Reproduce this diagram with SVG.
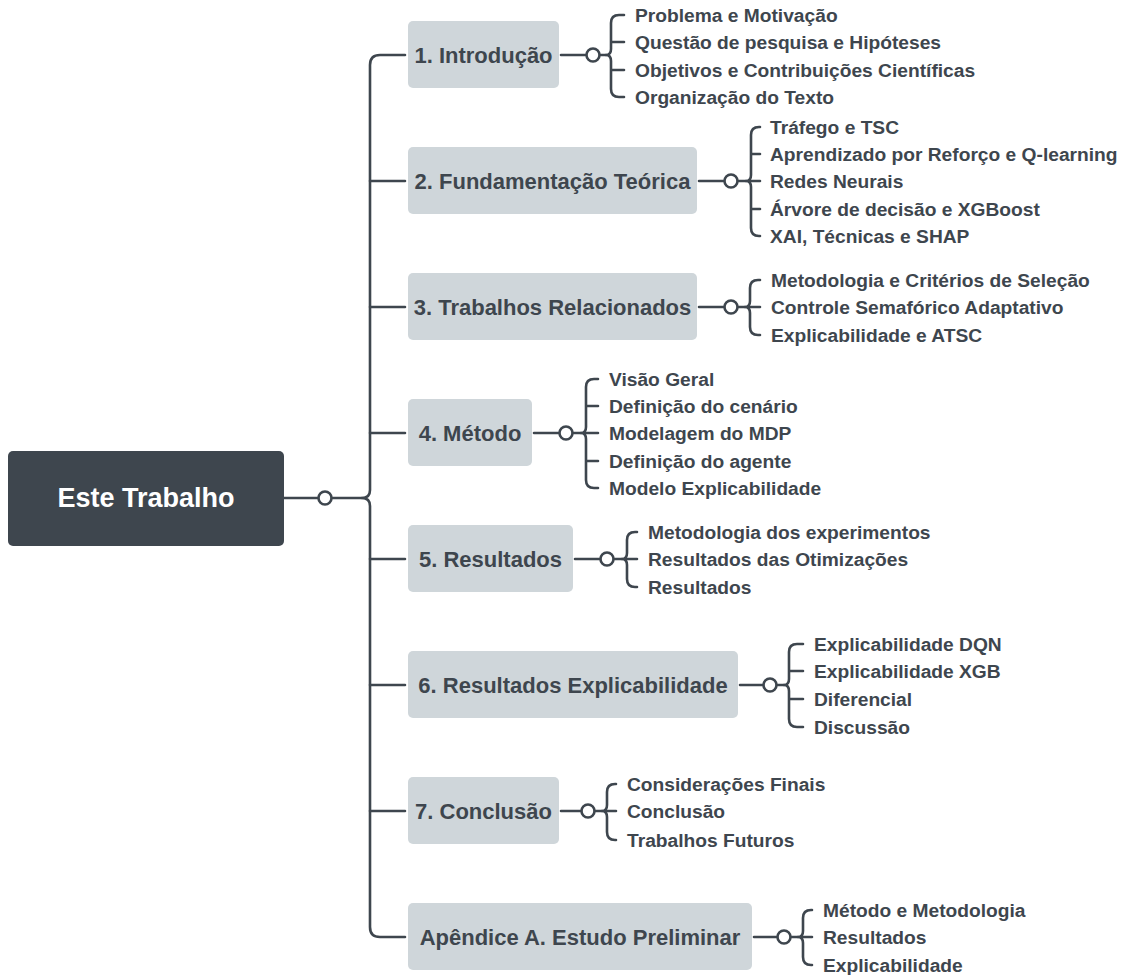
<svg xmlns="http://www.w3.org/2000/svg" width="1127" height="975" viewBox="0 0 1127 975">
  <style>
    .ln { fill: none; stroke: #3e464e; stroke-width: 2.6; stroke-linecap: round; stroke-linejoin: round; }
    .dot { fill: #ffffff; stroke: #3e464e; stroke-width: 2.6; }
    .root rect { fill: #3e464e; }
    .root text { fill: #ffffff; font: bold 27px "Liberation Sans", Arial, sans-serif; text-anchor: middle; dominant-baseline: central; }
    .ch rect { fill: #cfd6da; }
    .ch text { fill: #3e464e; font: bold 22px "Liberation Sans", Arial, sans-serif; text-anchor: middle; dominant-baseline: central; }
    .leaf { fill: #3e464e; font: bold 19.2px "Liberation Sans", Arial, sans-serif; dominant-baseline: central; }
  </style>

  <!-- connectors -->
  <g id="connectors">
    <!-- root to spine -->
    <path class="ln" d="M284,498 H318.5 M331.5,498 H362"/>
    <circle class="dot" cx="325" cy="498" r="6.5"/>
    <!-- spine -->
    <path class="ln" d="M405,55 H380 Q370,55 370,65 V490 Q370,498 362,498 Q370,498 370,506 V927 Q370,937 380,937 H405"/>
    <path class="ln" d="M370,181 H405 M370,307 H405 M370,433 H405 M370,559 H405 M370,685 H405 M370,811 H405"/>

    <!-- 1 -->
    <path class="ln" d="M561,55 H586.5 M599.5,55 H606"/>
    <circle class="dot" cx="593" cy="55" r="6.5"/>
    <path class="ln" d="M624,15 H619 Q611,15 611,23 V49 Q611,55 606,55 Q611,55 611,61 V89 Q611,97 619,97 H624 M611,42 H624 M611,70 H624"/>
    <!-- 2 -->
    <path class="ln" d="M699,181 H724.5 M737.5,181 H746"/>
    <circle class="dot" cx="731" cy="181" r="6.5"/>
    <path class="ln" d="M760,127 H759 Q751,127 751,135 V175 Q751,181 746,181 Q751,181 751,187 V228 Q751,236 759,236 H760 M751,154 H760 M751,181 H760 M751,209 H760"/>
    <!-- 3 -->
    <path class="ln" d="M699,307 H724.5 M737.5,307 H745"/>
    <circle class="dot" cx="731" cy="307" r="6.5"/>
    <path class="ln" d="M760,280 H758 Q750,280 750,288 V301 Q750,307 745,307 Q750,307 750,313 V327 Q750,335 758,335 H760 M750,307 H760"/>
    <!-- 4 -->
    <path class="ln" d="M534,433 H559.5 M572.5,433 H581"/>
    <circle class="dot" cx="566" cy="433" r="6.5"/>
    <path class="ln" d="M598,379 H594 Q586,379 586,387 V427 Q586,433 581,433 Q586,433 586,439 V480 Q586,488 594,488 H598 M586,406 H598 M586,433 H598 M586,461 H598"/>
    <!-- 5 -->
    <path class="ln" d="M575,559 H600.5 M613.5,559 H622"/>
    <circle class="dot" cx="607" cy="559" r="6.5"/>
    <path class="ln" d="M637,532 H635 Q627,532 627,540 V553 Q627,559 622,559 Q627,559 627,565 V579 Q627,587 635,587 H637 M627,559 H637"/>
    <!-- 6 -->
    <path class="ln" d="M740,685 H763.5 M776.5,685 H784"/>
    <circle class="dot" cx="770" cy="685" r="6.5"/>
    <path class="ln" d="M803,644 H797 Q789,644 789,652 V679 Q789,685 784,685 Q789,685 789,691 V719 Q789,727 797,727 H803 M789,671 H803 M789,699 H803"/>
    <!-- 7 -->
    <path class="ln" d="M561,811 H581.5 M594.5,811 H602"/>
    <circle class="dot" cx="588" cy="811" r="6.5"/>
    <path class="ln" d="M616,784 H615 Q607,784 607,792 V805 Q607,811 602,811 Q607,811 607,817 V832 Q607,840 615,840 H616 M607,811 H616"/>
    <!-- 8 -->
    <path class="ln" d="M754,937 H777.5 M790.5,937 H798"/>
    <circle class="dot" cx="784" cy="937" r="6.5"/>
    <path class="ln" d="M812,910 H811 Q803,910 803,918 V931 Q803,937 798,937 Q803,937 803,943 V957 Q803,965 811,965 H812 M803,937 H812"/>
  </g>

  <!-- root -->
  <g id="root" class="root">
    <rect x="8" y="451" width="276" height="95" rx="5"/>
    <text x="146" y="498">Este Trabalho</text>
  </g>

  <!-- chapters -->
  <g id="ch1" class="ch">
    <rect x="408" y="21" width="151" height="67" rx="5"/>
    <text x="483.5" y="55">1. Introdução</text>
  </g>
  <g id="ch2" class="ch">
    <rect x="408" y="147" width="289" height="67" rx="5"/>
    <text x="552.5" y="181">2. Fundamentação Teórica</text>
  </g>
  <g id="ch3" class="ch">
    <rect x="408" y="273" width="289" height="67" rx="5"/>
    <text x="552.5" y="307">3. Trabalhos Relacionados</text>
  </g>
  <g id="ch4" class="ch">
    <rect x="408" y="399" width="124" height="67" rx="5"/>
    <text x="470" y="433">4. Método</text>
  </g>
  <g id="ch5" class="ch">
    <rect x="408" y="525" width="165" height="67" rx="5"/>
    <text x="490.5" y="559">5. Resultados</text>
  </g>
  <g id="ch6" class="ch">
    <rect x="408" y="651" width="330" height="67" rx="5"/>
    <text x="573" y="685">6. Resultados Explicabilidade</text>
  </g>
  <g id="ch7" class="ch">
    <rect x="408" y="777" width="151" height="67" rx="5"/>
    <text x="483.5" y="811">7. Conclusão</text>
  </g>
  <g id="ch8" class="ch">
    <rect x="408" y="903" width="344" height="67" rx="5"/>
    <text x="580" y="937">Apêndice A. Estudo Preliminar</text>
  </g>

  <!-- leaves -->
  <g id="leaves1">
    <text class="leaf" x="635" y="15">Problema e Motivação</text>
    <text class="leaf" x="635" y="42">Questão de pesquisa e Hipóteses</text>
    <text class="leaf" x="635" y="70">Objetivos e Contribuições Científicas</text>
    <text class="leaf" x="635" y="97">Organização do Texto</text>
  </g>
  <g id="leaves2">
    <text class="leaf" x="770" y="127">Tráfego e TSC</text>
    <text class="leaf" x="770" y="154">Aprendizado por Reforço e Q-learning</text>
    <text class="leaf" x="770" y="181">Redes Neurais</text>
    <text class="leaf" x="770" y="209">Árvore de decisão e XGBoost</text>
    <text class="leaf" x="770" y="236">XAI, Técnicas e SHAP</text>
  </g>
  <g id="leaves3">
    <text class="leaf" x="771" y="280">Metodologia e Critérios de Seleção</text>
    <text class="leaf" x="771" y="307">Controle Semafórico Adaptativo</text>
    <text class="leaf" x="771" y="335">Explicabilidade e ATSC</text>
  </g>
  <g id="leaves4">
    <text class="leaf" x="609" y="379">Visão Geral</text>
    <text class="leaf" x="609" y="406">Definição do cenário</text>
    <text class="leaf" x="609" y="433">Modelagem do MDP</text>
    <text class="leaf" x="609" y="461">Definição do agente</text>
    <text class="leaf" x="609" y="488">Modelo Explicabilidade</text>
  </g>
  <g id="leaves5">
    <text class="leaf" x="648" y="532">Metodologia dos experimentos</text>
    <text class="leaf" x="648" y="559">Resultados das Otimizações</text>
    <text class="leaf" x="648" y="587">Resultados</text>
  </g>
  <g id="leaves6">
    <text class="leaf" x="814" y="644">Explicabilidade DQN</text>
    <text class="leaf" x="814" y="671">Explicabilidade XGB</text>
    <text class="leaf" x="814" y="699">Diferencial</text>
    <text class="leaf" x="814" y="727">Discussão</text>
  </g>
  <g id="leaves7">
    <text class="leaf" x="627" y="784">Considerações Finais</text>
    <text class="leaf" x="627" y="811">Conclusão</text>
    <text class="leaf" x="627" y="840">Trabalhos Futuros</text>
  </g>
  <g id="leaves8">
    <text class="leaf" x="823" y="910">Método e Metodologia</text>
    <text class="leaf" x="823" y="937">Resultados</text>
    <text class="leaf" x="823" y="965">Explicabilidade</text>
  </g>
</svg>
